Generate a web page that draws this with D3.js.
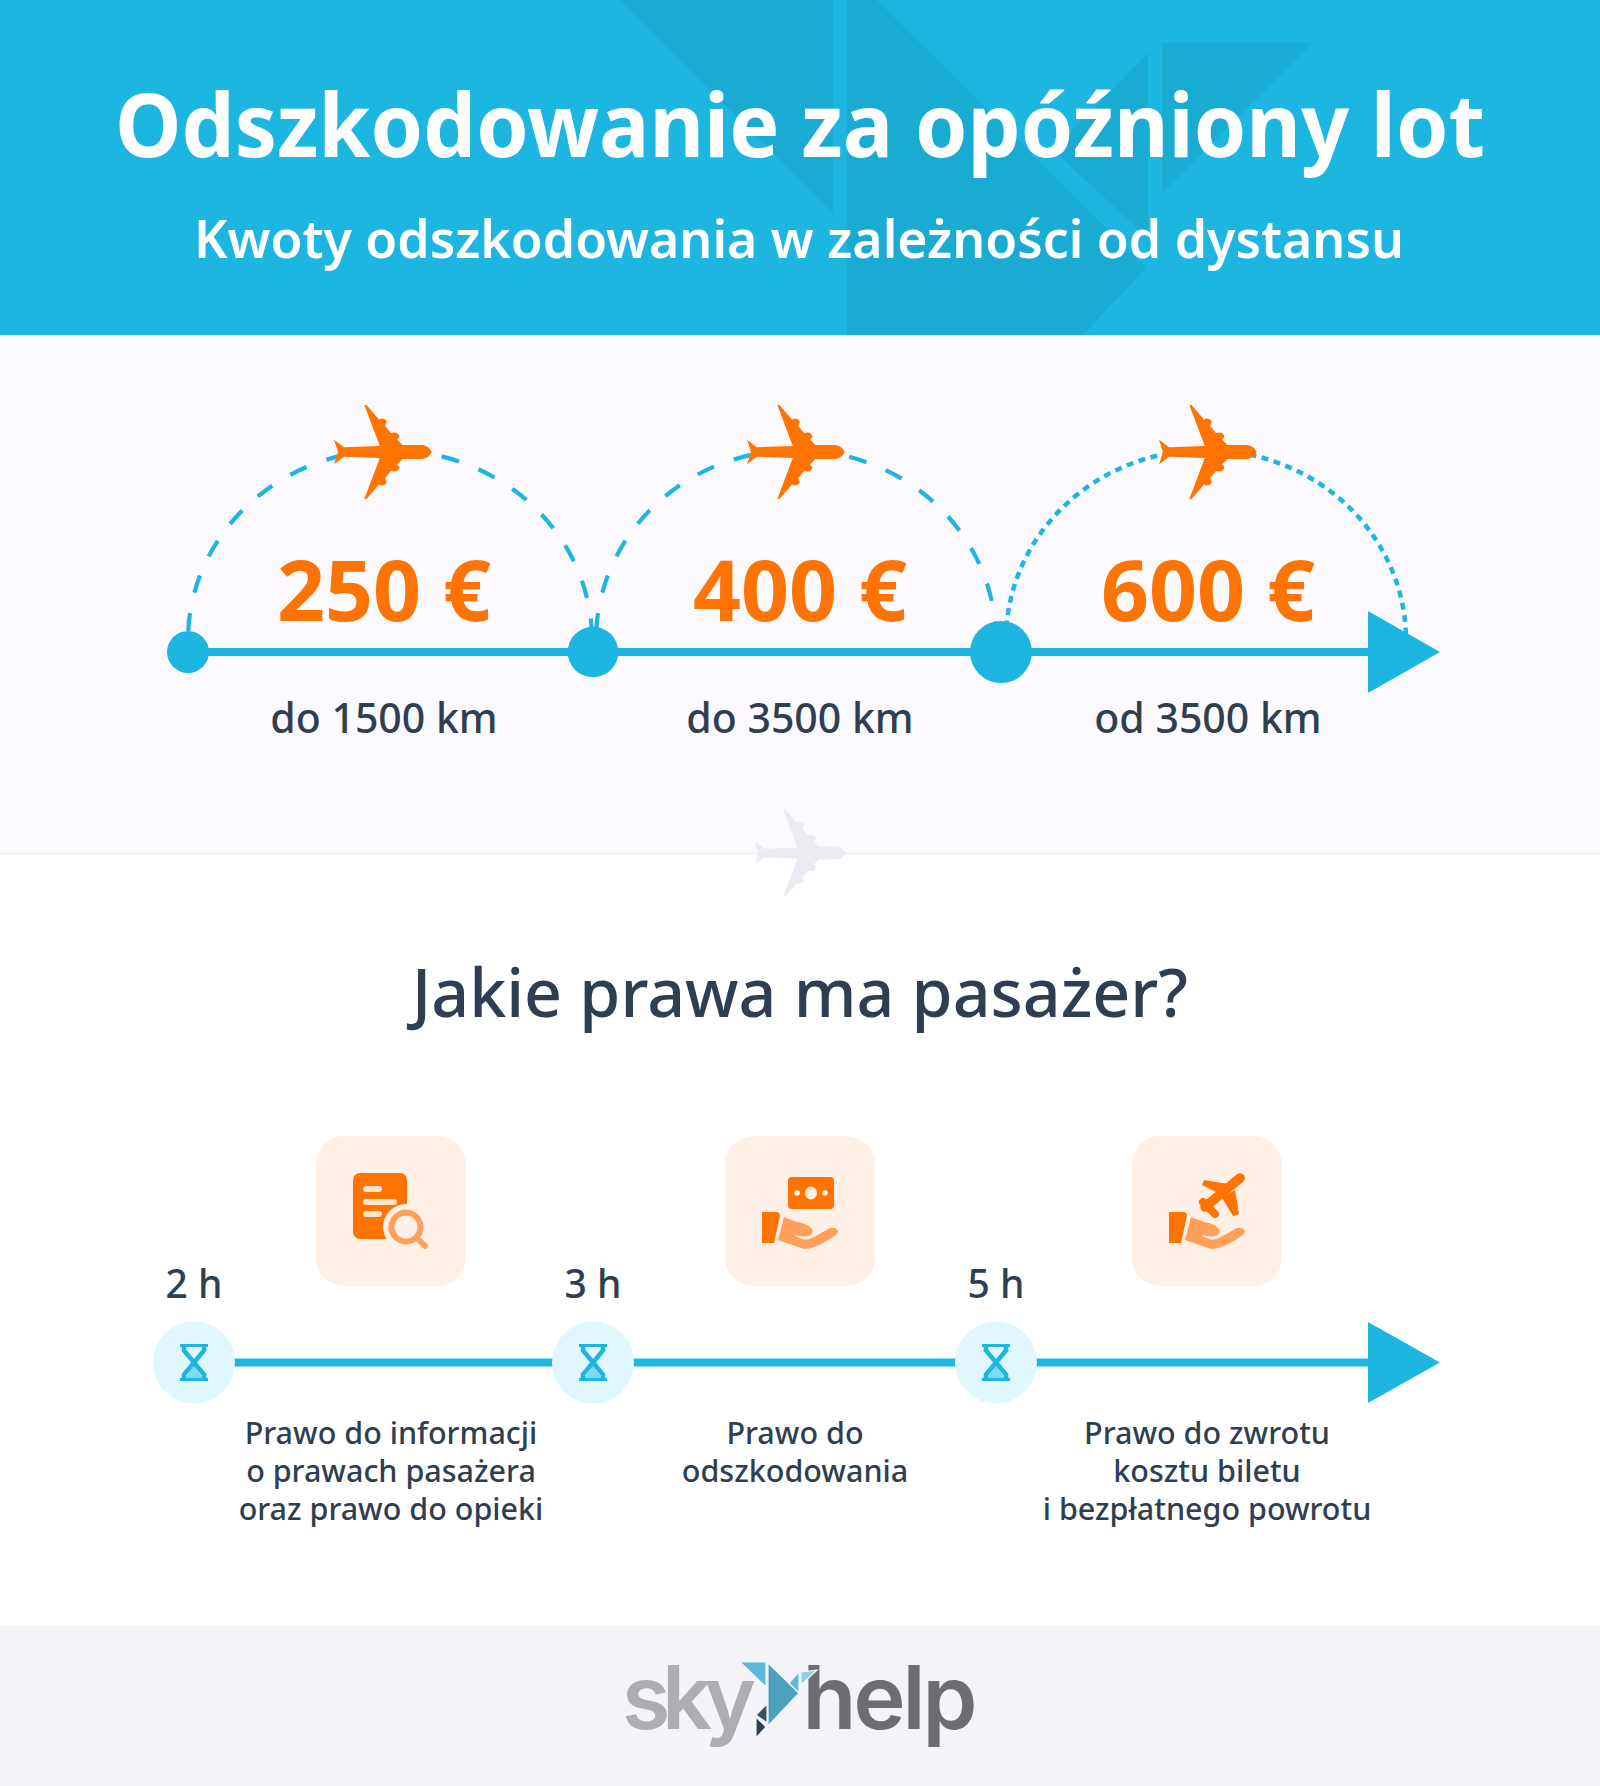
<!doctype html>
<meta charset="utf-8">

<style>
  body { margin: 0; background: #fff; }
  svg { display: block; }
  text { font-family: "Noto Sans", "Open Sans", sans-serif; text-anchor: middle; }
  .title { fill: #fff; font-weight: 700; }
  .sub { fill: #fff; font-weight: 600; }
  .dark { fill: #2f3e50; font-weight: 500; }
  .amount { fill: #ff7300; font-weight: 700; }
</style>

<svg id="chart" width="1600" height="1786"></svg>

<script src="https://d3js.org/d3.v7.min.js"></script>

<script>
  const titleText = "Odszkodowanie za opóźniony lot";
  const subtitleText = "Kwoty odszkodowania w zależności od dystansu";
  const headingText = "Jakie prawa ma pasażer?";

  const kmFrom = [0, 1500, 3500];
  const amounts = [250, 400, 600];
  const distanceLabels = ["do 1500 km", "do 3500 km", "od 3500 km"];

  const hours = [2, 3, 5];
  const rights = [
    ["Prawo do informacji", "o prawach pasażera", "oraz prawo do opieki"],
    ["Prawo do", "odszkodowania"],
    ["Prawo do zwrotu", "kosztu biletu", "i bezpłatnego powrotu"]
  ];

  const blue = "#1cb6e0", orange = "#ff7300", peach = "#ff9f5a", dark = "#2f3e50";
  const planePath = "M48.7 0C47 -4.5 42 -7 38 -7L19.5 -7L14 -12.5L16.5 -15Q15.5 -19.5 11.5 -19.5L8 -19L2.2 -26L3.8 -30.5Q2 -33.5 -1.7 -33.5L-4 -32.5L-16.5 -47Q-18.8 -47.8 -18.3 -46L-3.2 -6L-39 -4.7L-49 -12.3L-45 0L-49 12.3L-39 4.7L-3.2 6L-18.3 46Q-18.8 47.8 -16.5 47L-4 32.5L-1.7 33.5Q2 33.5 3.8 30.5L2.2 26L8 19L11.5 19.5Q15.5 19.5 16.5 15L14 12.5L19.5 7L38 7C42 7 47 4.5 48.7 0Z";

  let svg = d3.select("#chart");

  // scales
  let nodeX = d3.scaleLinear().domain(kmFrom).range([188, 593, 1001]);
  let nodeR = d3.scaleLinear().domain([250, 600]).range([21, 31]);
  let tierX = d3.scaleOrdinal().domain(amounts).range([384, 800, 1208]);
  let planeX = d3.scaleOrdinal().domain(amounts).range([383, 796, 1208]);
  let arcX0 = d3.scaleOrdinal().domain(amounts).range([188, 596, 1006]);
  let arcX1 = d3.scaleOrdinal().domain(amounts).range([592, 996, 1406]);
  let hourX = d3.scaleOrdinal().domain(hours).range([194, 593, 996]);
  let boxX = d3.scaleOrdinal().domain(hours).range([391, 800, 1207]);
  let textX = d3.scaleOrdinal().domain(hours).range([391, 795, 1207]);

  // backgrounds
  svg.append("rect").attr("width", 1600).attr("height", 853).attr("fill", "#fcfafe");
  svg.append("rect").attr("y", 852).attr("width", 1600).attr("height", 3).attr("fill", "#f5f3f8");
  svg.append("rect").attr("y", 1626).attr("width", 1600).attr("height", 160).attr("fill", "#f3f3f8");
  svg.append("rect").attr("width", 1600).attr("height", 335).attr("fill", blue);

  let shapes = [
    "M620 0H833V213Z",
    "M847 0H877L1146 268L1083 335H847Z",
    "M1148 53V238L1053 150Z",
    "M1162 43H1312L1162 193Z"
  ];
  svg.selectAll("path.shape").data(shapes).enter().append("path")
    .attr("class", "shape").attr("d", d => d).attr("fill", "#19abd2");

  svg.append("text").attr("class", "title").attr("x", 800).attr("y", 157)
    .attr("font-size", 88).attr("textLength", 1370).attr("lengthAdjust", "spacingAndGlyphs").text(titleText);
  svg.append("text").attr("class", "sub").attr("x", 799).attr("y", 258)
    .attr("font-size", 53).attr("textLength", 1210).attr("lengthAdjust", "spacingAndGlyphs").text(subtitleText);

  // distance timeline
  const axisY = 652, arcBase = 640;
  svg.append("line").attr("x1", nodeX(0)).attr("x2", 1380).attr("y1", axisY).attr("y2", axisY)
    .attr("stroke", blue).attr("stroke-width", 8);

  let tiers = svg.selectAll("g.tier").data(amounts).enter().append("g").attr("class", "tier");

  tiers.append("path")
    .attr("fill", "none")
    .attr("stroke", blue)
    .attr("stroke-width", (d, i) => i == 2 ? 4.5 : 4.2)
    .attr("stroke-dasharray", (d, i) => i == 2 ? "7 5.5" : "18 21")
    .attr("stroke-dashoffset", (d, i) => i == 2 ? 0 : -9)
    .attr("d", d => `M${arcX0(d)} ${arcBase}A${(arcX1(d) - arcX0(d)) / 2} 190 0 0 1 ${arcX1(d)} ${arcBase}`);

  svg.append("path").attr("fill", blue)
    .attr("d", d3.line()([[1368, 611], [1440, 652], [1368, 693]]) + "Z");

  tiers.append("circle")
    .attr("cx", (d, i) => nodeX(kmFrom[i]))
    .attr("cy", axisY)
    .attr("r", d => nodeR(d))
    .attr("fill", blue);

  tiers.append("path")
    .attr("d", planePath)
    .attr("fill", orange)
    .attr("transform", d => `translate(${planeX(d)},452)`);

  tiers.append("text")
    .attr("class", "amount")
    .attr("x", d => tierX(d))
    .attr("y", 621)
    .attr("font-size", 84)
    .text(d => d + " €");

  tiers.append("text")
    .attr("class", "dark")
    .attr("x", d => tierX(d))
    .attr("y", 733)
    .attr("font-size", 41)
    .text((d, i) => distanceLabels[i]);

  // ghost plane on the divider
  svg.append("path").attr("d", planePath).attr("fill", "#ecebf1")
    .attr("transform", "translate(800.5,853) scale(0.93)");

  svg.append("text").attr("class", "dark").attr("x", 800).attr("y", 1017)
    .attr("font-size", 67).text(headingText)
    .attr("textLength", 776).attr("lengthAdjust", "spacingAndGlyphs");

  // hours timeline
  const hourY = 1362.5;
  svg.append("line").attr("x1", hourX(2)).attr("x2", 1380).attr("y1", hourY).attr("y2", hourY)
    .attr("stroke", blue).attr("stroke-width", 8);
  svg.append("path").attr("fill", blue)
    .attr("d", d3.line()([[1368, 1322], [1440, 1362.5], [1368, 1403]]) + "Z");

  let steps = svg.selectAll("g.step").data(hours).enter().append("g").attr("class", "step");

  steps.append("circle").attr("cx", d => hourX(d)).attr("cy", hourY).attr("r", 41).attr("fill", "#e0f7ff");

  let glass = steps.append("g").attr("transform", d => `translate(${hourX(d)},${hourY})`);
  glass.append("path").attr("d", "M0 3L-9 16H9Z").attr("fill", "#7fd9f5");
  glass.append("path").attr("fill", "none").attr("stroke", blue).attr("stroke-width", 4.5)
    .attr("d", "M-10 -17V-12L10 12V17M10 -17V-12L-10 12V17");
  glass.append("path").attr("fill", "none").attr("stroke", blue).attr("stroke-width", 3)
    .attr("d", "M-14 -17H14M-14 17H14");

  steps.append("text")
    .attr("class", "dark")
    .attr("x", d => hourX(d))
    .attr("y", 1298)
    .attr("font-size", 39)
    .text(d => d + " h");

  steps.append("rect")
    .attr("x", d => boxX(d) - 75)
    .attr("y", 1136)
    .attr("width", 150)
    .attr("height", 150)
    .attr("rx", 28)
    .attr("fill", "#fff0e7");

  steps.each(function(d, i) {
    let g = d3.select(this).append("g").attr("transform", `translate(${boxX(d)},1211)`);
    if (i == 0) {
      g.append("rect").attr("x", -38).attr("y", -38).attr("width", 54).attr("height", 66).attr("rx", 7).attr("fill", orange);
      g.selectAll("rect.row").data([-25, -12, 0]).enter().append("rect")
        .attr("class", "row").attr("x", -28).attr("y", r => r).attr("height", 6).attr("rx", 3)
        .attr("width", (r, j) => j == 1 ? 34 : 19).attr("fill", "#ffe3cc");
      g.append("circle").attr("cx", 15).attr("cy", 16).attr("r", 23).attr("fill", "#fff0e7");
      g.append("circle").attr("cx", 15).attr("cy", 16).attr("r", 14.5).attr("fill", "none").attr("stroke", peach).attr("stroke-width", 6);
      g.append("path").attr("d", "M26 27L34 35").attr("stroke", peach).attr("stroke-width", 6).attr("stroke-linecap", "round");
    } else {
      g.append("path").attr("fill", orange).attr("d", "M-38 1H-24Q-20 1 -20 5L-26 32H-38Z");
      g.append("path").attr("fill", peach).attr("d", "M-16 6L-3 11Q10 13 13 20Q12 27 0 25L-6 24Q4 31 12 27L30 17Q37 16 38 21Q37 24 30 28Q14 38 4 38L-22 29Z");
    }
    if (i == 1) {
      g.append("rect").attr("x", -12).attr("y", -34).attr("width", 46).attr("height", 32).attr("rx", 4).attr("fill", orange);
      g.append("ellipse").attr("cx", 11).attr("cy", -18).attr("rx", 6).attr("ry", 6.5).attr("fill", "#fff0e7");
      g.selectAll("circle.dot").data([-3, 25]).enter().append("circle")
        .attr("class", "dot").attr("cx", c => c).attr("cy", -18).attr("r", 2.8).attr("fill", "#fff0e7");
    }
    if (i == 2) {
      g.append("path").attr("d", "M33 -33L-2 -4").attr("stroke", orange).attr("stroke-width", 9.5).attr("stroke-linecap", "round");
      g.append("path").attr("d", "M-3 -31L22 -27L9 -19L-5 -26Z M28 -21L32 3L26 5L15 -13Z").attr("fill", orange);
      g.append("path").attr("d", "M-4 -9L8 3").attr("stroke", orange).attr("stroke-width", 8).attr("stroke-linecap", "round");
    }
  });

  steps.each(function(d, i) {
    d3.select(this).selectAll("text.right").data(rights[i]).enter().append("text")
      .attr("class", "dark right")
      .attr("x", textX(d))
      .attr("y", (l, j) => 1444 + j * 38)
      .attr("font-size", 30.5)
      .text(l => l);
  });

  // logo
  let logo = svg.append("g");
  logo.append("text").attr("x", 689).attr("y", 1729).attr("font-size", 88)
    .style("font-family", "Inter").style("font-weight", 600).attr("fill", "#aeaeb2")
    .attr("textLength", 134).attr("lengthAdjust", "spacing").text("sky");
  logo.append("text").attr("x", 890).attr("y", 1729).attr("font-size", 88)
    .style("font-family", "Inter").style("font-weight", 600).attr("fill", "#6d6c71")
    .attr("textLength", 175).attr("lengthAdjust", "spacing").text("help");

  let bird = [
    ["M740 1662H766V1687Z", "#5cbad6"],
    ["M768 1663L799 1693L768 1726Z", "#4da0bc"],
    ["M789 1683L799 1672V1693Z", "#5cbad6"],
    ["M801 1672L817 1670L801 1685Z", "#93d0e2"],
    ["M767 1704V1723L756 1715Z", "#3b4f60"],
    ["M756 1717L766 1727L756 1738Z", "#2d3e50"]
  ];
  logo.selectAll("path").data(bird).enter().append("path")
    .attr("d", d => d[0]).attr("fill", d => d[1])
    .attr("stroke", "#f3f3f8").attr("stroke-width", 1.2);
</script>
